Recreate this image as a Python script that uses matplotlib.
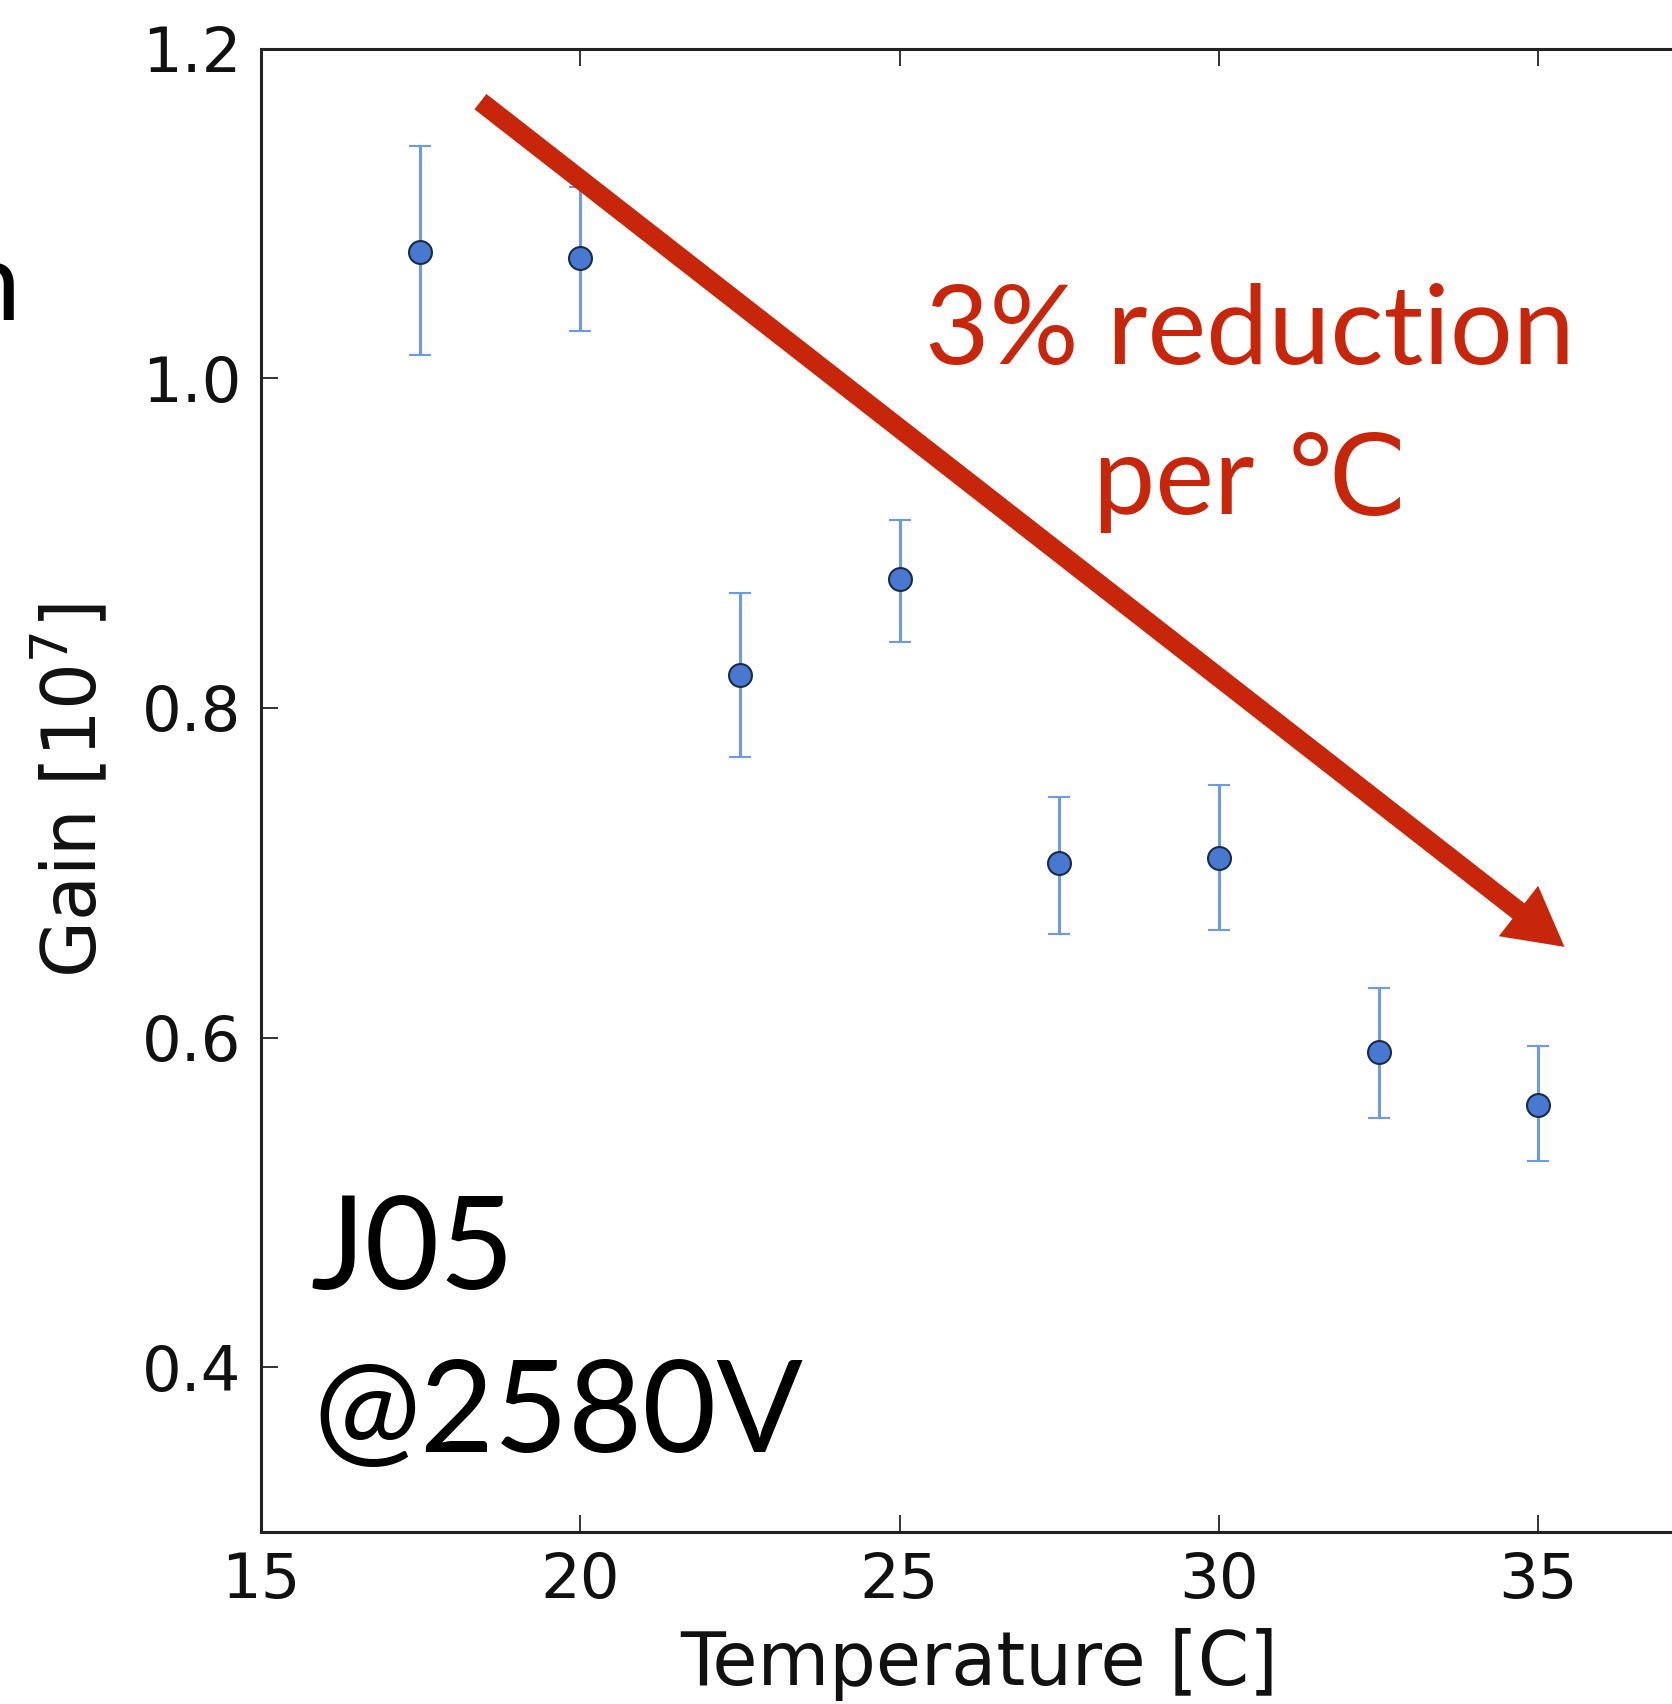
import matplotlib
matplotlib.use("Agg")
import matplotlib.pyplot as plt
from matplotlib.patches import FancyArrowPatch

# ---- data ----
temperature = [17.5, 20.0, 22.5, 25.0, 27.5, 30.0, 32.5, 35.0]
gain = [1.077, 1.073, 0.820, 0.878, 0.706, 0.709, 0.591, 0.559]
gain_err_lo = [0.063, 0.044, 0.050, 0.038, 0.043, 0.044, 0.040, 0.034]
gain_err_hi = [0.064, 0.043, 0.050, 0.036, 0.040, 0.044, 0.039, 0.036]
xticks = [15, 20, 25, 30, 35]
yticks = [0.4, 0.6, 0.8, 1.0, 1.2]
arrow_start = (18.44, 1.168)
arrow_end = (35.41, 0.655)

W, H = 1672, 1704
fig = plt.figure(figsize=(W / 100, H / 100), dpi=100)
fig.patch.set_facecolor("white")

left_px, top_px, bottom_px = 260.7, 48.9, 1531.8
px_per_unit = 63.88
xmin, xmax = 15, 37.5
ax = fig.add_axes([left_px / W, 1 - bottom_px / H,
                   (xmax - xmin) * px_per_unit / W, (bottom_px - top_px) / H])
ax.set_xlim(xmin, xmax)
ax.set_ylim(0.3, 1.2)

for s in ax.spines.values():
    s.set_linewidth(2.2)
    s.set_color("#222222")

ax.set_xticks(xticks)
ax.set_yticks(yticks)
ax.set_yticklabels([f"{v:.1f}" for v in yticks])
ax.tick_params(direction="in", length=12, width=1.2, top=True, right=True,
               labelsize=45, pad=14, colors="#111111")
ax.set_xlabel("Temperature [C]", fontsize=53, labelpad=12, color="#111111")
ax.set_ylabel("Gain [10$^7$]", fontsize=53, labelpad=21, color="#111111")

ax.errorbar(temperature, gain, yerr=[gain_err_lo, gain_err_hi], fmt="o",
            color="#4878D0", ecolor="#6B9BE8", elinewidth=2.2, capsize=8,
            capthick=2.0, markersize=16.5, markeredgecolor="#1a2a4a",
            markeredgewidth=1.5, zorder=3)

red = "#C8260B"
arr = FancyArrowPatch(arrow_start, arrow_end,
                      arrowstyle="simple,head_length=42,head_width=46,tail_width=14",
                      mutation_scale=1, color=red, lw=0, shrinkA=0, shrinkB=0,
                      zorder=4, clip_on=False)
ax.add_patch(arr)

fam = ["Lato", "DejaVu Sans"]
ax.text(30.49, 1.0086, "3% reduction", color=red, fontsize=80, ha="center",
        va="baseline", family=fam)
ax.text(30.49, 0.918, "per \u2103", color=red, fontsize=80, ha="center",
        va="baseline", family=fam)
ax.text(15.78, 0.4475, "J05", color="black", fontsize=93, ha="left",
        va="baseline", family=fam)
ax.text(15.82, 0.3485, "@2580V", color="black", fontsize=92, ha="left",
        va="baseline", family=fam)

fig.text(20 / W, 1 - 320 / H, "n", color="black", fontsize=80, ha="right",
         va="baseline", family=fam)

fig.savefig("out.png", dpi=100, facecolor="white")
